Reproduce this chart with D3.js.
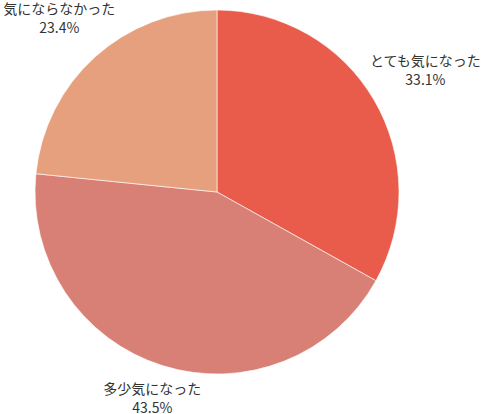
<!DOCTYPE html>
<html><head><meta charset="utf-8">
<script src="https://cdn.jsdelivr.net/npm/d3@7"></script>
<style>html,body{margin:0;padding:0;background:#fff;}svg{display:block;}</style>
</head><body>
<svg id="c" width="486" height="414"></svg>
<script>
const categories = ["とても気になった", "多少気になった", "気にならなかった"];
const values = [33.1, 43.5, 23.4];
const colors = ["#e95c4c", "#d98076", "#e6a07e"];

const svg = d3.select("#c");
const cx = 217, cy = 192, r = 182;
const g = svg.append("g").attr("transform", `translate(${cx},${cy})`);
const data = categories.map((c, i) => ({ c, v: values[i], col: colors[i] }));
const pie = d3.pie().value(d => d.v).sort(null);
const arcs = pie(data);
const arc = d3.arc().innerRadius(0).outerRadius(r);
g.selectAll("path").data(arcs).enter().append("path")
  .attr("d", arc).attr("fill", d => d.data.col)
  .attr("stroke", "#fff").attr("stroke-width", 0.6);

const gap = 4;
g.selectAll("text.l").data(arcs).enter().append("text")
  .attr("class", "l")
  .attr("text-anchor", "middle")
  .attr("font-family", "'Noto Sans CJK JP', 'Noto Sans', sans-serif")
  .attr("font-size", 14)
  .attr("fill", "#333")
  .each(function(d) {
    const t = d3.select(this);
    t.append("tspan").attr("x", 0).attr("y", 0).text(d.data.c);
    t.append("tspan").attr("x", 0).attr("y", 19).text(d.data.v.toFixed(1) + "%");
    const b = this.getBBox();
    const hEff = b.height - 8;
    const a = (d.startAngle + d.endAngle) / 2;
    const sx = Math.sin(a), sy = -Math.cos(a);
    const D = r + gap + Math.abs(sx) * b.width / 2 + Math.abs(sy) * hEff / 2;
    const px = sx * D, py = sy * D;
    const bcx = b.x + b.width / 2, bcy = b.y + b.height / 2;
    t.attr("transform", `translate(${px - bcx},${py - bcy})`);
  });
</script>
</body></html>
